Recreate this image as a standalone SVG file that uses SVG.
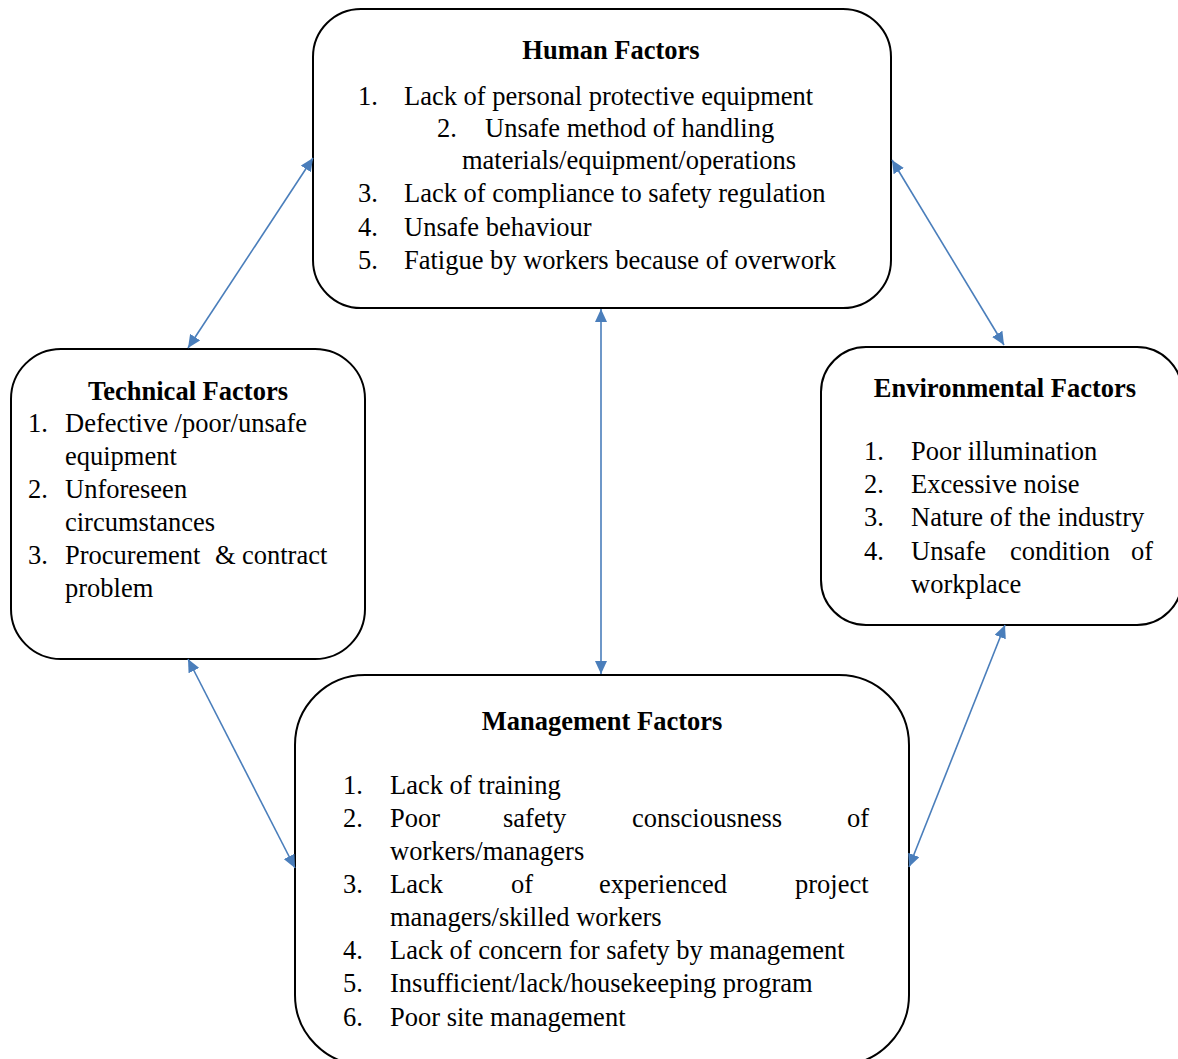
<svg xmlns="http://www.w3.org/2000/svg" width="1178" height="1059" viewBox="0 0 1178 1059">
<style>
.box{fill:#fff;stroke:#000;stroke-width:2}
text{font-family:"Liberation Serif","Times New Roman",serif;font-size:26.5px;fill:#000}
.h{font-weight:bold;text-anchor:middle}
.c{stroke:#4A7EBB;stroke-width:1.6;fill:none;marker-start:url(#ah);marker-end:url(#ah)}
</style>
<defs>
<marker id="ah" markerUnits="userSpaceOnUse" markerWidth="14" markerHeight="12" refX="13" refY="6" orient="auto-start-reverse">
<path d="M0,0 L13,6 L0,12 z" fill="#4A7EBB"/>
</marker>
</defs>
<rect width="1178" height="1059" fill="#fff"/>
<g id="human">
<rect class="box" x="313" y="9" width="578" height="299" rx="48" ry="48"/>
<text class="h" x="611" y="59">Human Factors</text>
<text x="358" y="105">1.</text><text x="404" y="105">Lack of personal protective equipment</text>
<text x="437" y="137">2.</text><text x="485" y="137">Unsafe method of handling</text>
<text x="462" y="169">materials/equipment/operations</text>
<text x="358" y="202">3.</text><text x="404" y="202">Lack of compliance to safety regulation</text>
<text x="358" y="236">4.</text><text x="404" y="236">Unsafe behaviour</text>
<text x="358" y="269">5.</text><text x="404" y="269">Fatigue by workers because of overwork</text>
</g>
<g id="technical">
<rect class="box" x="11" y="349" width="354" height="310" rx="50" ry="50"/>
<text class="h" x="188" y="400">Technical Factors</text>
<text x="28" y="432">1.</text><text x="65" y="432">Defective /poor/unsafe</text>
<text x="65" y="465">equipment</text>
<text x="28" y="498">2.</text><text x="65" y="498">Unforeseen</text>
<text x="65" y="531">circumstances</text>
<text x="28" y="564">3.</text><text y="564"><tspan x="65">Procurement</tspan><tspan x="215">&amp;</tspan><tspan x="242">contract</tspan></text>
<text x="65" y="597">problem</text>
</g>
<g id="environmental">
<rect class="box" x="821" y="347" width="361" height="278" rx="45" ry="45"/>
<text class="h" x="1005" y="397">Environmental Factors</text>
<text x="864" y="460">1.</text><text x="911" y="460">Poor illumination</text>
<text x="864" y="493">2.</text><text x="911" y="493">Excessive noise</text>
<text x="864" y="526">3.</text><text x="911" y="526">Nature of the industry</text>
<text x="864" y="560">4.</text><text y="560"><tspan x="911">Unsafe</tspan><tspan x="1010">condition</tspan><tspan x="1131">of</tspan></text>
<text x="911" y="593">workplace</text>
</g>
<g id="management">
<rect class="box" x="295" y="675" width="614" height="390" rx="70" ry="70"/>
<text class="h" x="602" y="730">Management Factors</text>
<text x="343" y="794">1.</text><text x="390" y="794">Lack of training</text>
<text x="343" y="827">2.</text><text y="827"><tspan x="390">Poor</tspan><tspan x="503">safety</tspan><tspan x="632">consciousness</tspan><tspan x="847">of</tspan></text>
<text x="390" y="860">workers/managers</text>
<text x="343" y="893">3.</text><text y="893"><tspan x="390">Lack</tspan><tspan x="511">of</tspan><tspan x="599">experienced</tspan><tspan x="795">project</tspan></text>
<text x="390" y="926">managers/skilled workers</text>
<text x="343" y="959">4.</text><text x="390" y="959">Lack of concern for safety by management</text>
<text x="343" y="992">5.</text><text x="390" y="992">Insufficient/lack/housekeeping program</text>
<text x="343" y="1026">6.</text><text x="390" y="1026">Poor site management</text>
</g>
<g id="connectors">
<line class="c" x1="188" y1="348" x2="313" y2="158"/>
<line class="c" x1="892" y1="160" x2="1004" y2="345"/>
<line class="c" x1="601" y1="309" x2="601" y2="674"/>
<line class="c" x1="188" y1="659" x2="295" y2="868"/>
<line class="c" x1="1005" y1="625" x2="909" y2="867"/>
</g>
</svg>
